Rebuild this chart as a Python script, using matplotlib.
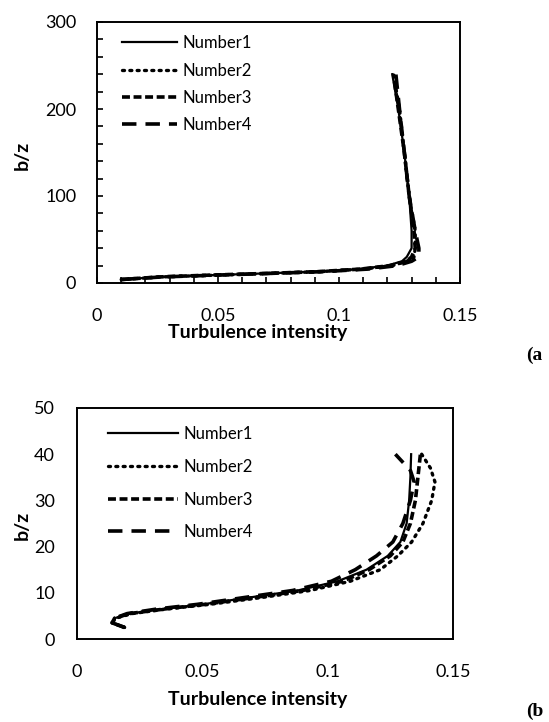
import matplotlib
matplotlib.use("Agg")
import matplotlib.pyplot as plt
from matplotlib.ticker import MultipleLocator

plt.rcParams['font.family'] = ['Lato', 'DejaVu Sans']

series_names = ["Number1", "Number2", "Number3", "Number4"]

# Panel (a)
a_y1 = [4, 7, 9, 11, 13, 16, 20, 25, 30, 40, 60, 100, 150, 200, 240]
a_x1 = [0.010, 0.026, 0.047, 0.069, 0.090, 0.108, 0.120, 0.126, 0.128, 0.130, 0.130, 0.129, 0.127, 0.1245, 0.122]
a_y2 = [4, 7, 9, 11, 13, 16, 20, 25, 30, 40, 60, 100, 150, 200, 240]
a_x2 = [0.010, 0.027, 0.049, 0.071, 0.092, 0.110, 0.122, 0.128, 0.131, 0.1315, 0.1315, 0.129, 0.127, 0.125, 0.1225]
a_y3 = [4, 7, 9, 11, 13, 16, 20, 25, 30, 40, 60, 100, 150, 200, 240]
a_x3 = [0.010, 0.026, 0.046, 0.070, 0.091, 0.109, 0.121, 0.128, 0.130, 0.1315, 0.131, 0.129, 0.127, 0.1245, 0.1225]
a_y4 = [4, 7, 9, 11, 13, 16, 20, 25, 30, 40, 60, 100, 150, 200, 240]
a_x4 = [0.010, 0.027, 0.049, 0.071, 0.093, 0.112, 0.124, 0.130, 0.133, 0.133, 0.1315, 0.129, 0.127, 0.125, 0.1235]

# Panel (b)
b_y1 = [2.5, 3.5, 4.5, 5.5, 6.5, 7.5, 9, 10.5, 12.5, 15, 18, 21, 25, 30, 35, 40]
b_x1 = [0.019, 0.0140, 0.0150, 0.021, 0.034, 0.050, 0.069, 0.088, 0.104, 0.1155, 0.124, 0.129, 0.1315, 0.1325, 0.133, 0.1333]
b_y2 = [2.5, 3.5, 4.5, 5.5, 6.5, 7.5, 9, 10.5, 12.5, 15, 18, 21, 25, 30, 34, 37, 40]
b_x2 = [0.019, 0.0140, 0.0155, 0.022, 0.036, 0.053, 0.074, 0.093, 0.109, 0.121, 0.128, 0.1335, 0.138, 0.1415, 0.1428, 0.141, 0.1375]
b_y3 = [2.5, 3.5, 4.5, 5.5, 6.5, 7.5, 9, 10.5, 12.5, 15, 18, 21, 25, 30, 35, 40]
b_x3 = [0.019, 0.0140, 0.0150, 0.021, 0.035, 0.051, 0.071, 0.090, 0.106, 0.1165, 0.125, 0.130, 0.133, 0.135, 0.136, 0.137]
b_y4 = [2.5, 3.5, 4.5, 5.5, 6.5, 7.5, 9, 10.5, 12.5, 15, 18, 21, 25, 30, 34, 36.5, 40]
b_x4 = [0.019, 0.0140, 0.0150, 0.020, 0.032, 0.048, 0.067, 0.086, 0.1015, 0.111, 0.1195, 0.126, 0.130, 0.133, 0.1345, 0.133, 0.127]

x_ticks = [0, 0.05, 0.1, 0.15]
x_tick_labels = ["0", "0.05", "0.1", "0.15"]
a_y_ticks = [0, 100, 200, 300]
b_y_ticks = [0, 10, 20, 30, 40, 50]

styles = [
    dict(linestyle='-', linewidth=1.6),
    dict(linestyle=(0, (0.6, 1.6)), linewidth=2.4, dash_capstyle='round'),
    dict(linestyle=(0, (2.2, 1.0)), linewidth=2.6),
    dict(linestyle=(0, (4.0, 2.5)), linewidth=2.6),
]

fig = plt.figure(figsize=(5.49, 7.22), dpi=100)
FS = 13
FSLEG = 12
FSL = 14

def setup(ax, yticks, ylim, inner_ticks, xpad, ypad):
    ax.set_xlim(0, 0.15)
    ax.set_ylim(*ylim)
    ax.set_xticks(x_ticks)
    ax.set_xticklabels(x_tick_labels)
    ax.set_yticks(yticks)
    for s in ax.spines.values():
        s.set_linewidth(1.4)
    if inner_ticks:
        ax.xaxis.set_minor_locator(MultipleLocator(0.01))
        ax.yaxis.set_minor_locator(MultipleLocator(20))
        ax.tick_params(which='both', direction='in', length=4.5, width=1.2, labelsize=FS)
    else:
        ax.tick_params(which='both', length=0, labelsize=FS)
    ax.tick_params(axis='x', which='both', pad=xpad)
    ax.tick_params(axis='y', which='both', pad=ypad)
    ax.set_xlabel("Turbulence intensity", fontsize=FSL, fontweight='bold')
    ax.xaxis.label.set_verticalalignment('center')
    ax.set_ylabel("b/z", fontsize=FSL, fontweight='bold')
    ax.yaxis.label.set_verticalalignment('center')

# Panel a
ax1 = fig.add_axes([97/549, 1-283/722, 363/549, 261/722])
for xs, ys, st, nm in zip([a_x1, a_x2, a_x3, a_x4], [a_y1, a_y2, a_y3, a_y4], styles, series_names):
    ax1.plot(xs, ys, color='black', label=nm, **st)
setup(ax1, a_y_ticks, (0, 300), True, 18, 15)
ax1.xaxis.set_label_coords((258-97)/363, (283-333)/261)
ax1.yaxis.set_label_coords((22-97)/363, (283-155)/261)
ax1.legend(loc='upper left', bbox_to_anchor=(0.05, 0.975), frameon=False, fontsize=FSLEG,
           handlelength=3.3, handletextpad=0.35, labelspacing=0.68, borderaxespad=0)

# Panel b
ax2 = fig.add_axes([77/549, 1-639/722, 376/549, 231/722])
for xs, ys, st, nm in zip([b_x1, b_x2, b_x3, b_x4], [b_y1, b_y2, b_y3, b_y4], styles, series_names):
    ax2.plot(xs, ys, color='black', label=nm, **st)
setup(ax2, b_y_ticks, (0, 50), False, 18, 16)
ax2.xaxis.set_label_coords((258-77)/376, (639-700)/231)
ax2.yaxis.set_label_coords((22-77)/376, (639-525)/231)
ax2.legend(loc='upper left', bbox_to_anchor=(0.065, 0.95), frameon=False, fontsize=FSLEG,
           handlelength=4.2, handletextpad=0.3, labelspacing=1.0, borderaxespad=0)

fig.text(526/549, 1-355/722, "(a", fontsize=14, fontweight='bold',
         family=['Liberation Serif'], ha='left', va='center')
fig.text(526/549, 1-711/722, "(b", fontsize=14, fontweight='bold',
         family=['Liberation Serif'], ha='left', va='center')

fig.savefig("out.png", dpi=100)
